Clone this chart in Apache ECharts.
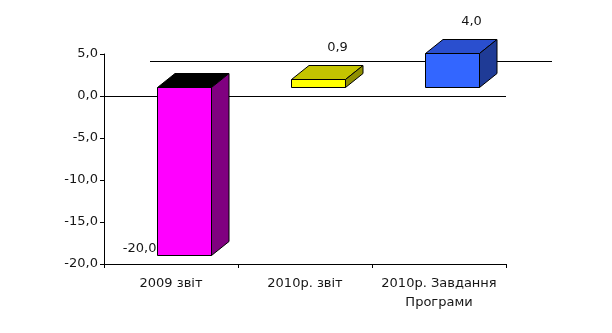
<!DOCTYPE html>
<html>
<head>
<meta charset="utf-8">
<script src="https://cdn.jsdelivr.net/npm/echarts@6/dist/echarts.min.js"></script>
<style>
  html, body { margin: 0; padding: 0; background: #fff; }
  #chart { width: 612px; height: 333px; }
</style>
</head>
<body>
<div id="chart"></div>
<script>
// Categories and values of the chart
const categories = ['2009 звіт', '2010р. звіт', '2010р. Завдання\nПрограми'];
const values = [-20.0, 0.9, 4.0];
const yTicks = { min: -20, max: 5, interval: 5 };
const baseline = 0;

// Face colours for each column: front, top, side
const frontColors = ['#FF00FF', '#FFFF00', '#3366FF'];
const topColors = ['#000000', '#C4C400', '#2A4FCF'];
const sideColors = ['#800080', '#8F8F00', '#1F3B96'];

// 3D projection offsets (pixels)
const FRONT = [13, -9.5];   // column front face relative to the front plane
const DEPTH = [17.5, -14];  // column depth
const WALL = [46, -35];     // back wall relative to the front plane

const FONT = 'DejaVu Sans';
const TXT = '#161616';

const fmt = v => v.toFixed(1).replace('.', ',');
const crisp = v => Math.round(v) + 0.5;

const chart = echarts.init(document.getElementById('chart'), null, { renderer: 'canvas' });

function renderFloor(params, api) {
  const cs = params.coordSys;
  const y0 = api.coord([0, baseline])[1];
  const x1 = Math.round(cs.x), x2 = Math.round(cs.x + cs.width);
  const st = { stroke: '#000', lineWidth: 1 };
  const yf = crisp(y0), yb = crisp(y0 + WALL[1]);
  return {
    type: 'group',
    children: [
      { type: 'line', shape: { x1: x1, y1: yf, x2: x2, y2: yf }, style: st },
      { type: 'line', shape: { x1: x1 + WALL[0], y1: yb, x2: x2 + WALL[0], y2: yb }, style: st }
    ]
  };
}

function renderBar(params, api) {
  const i = api.value(0);
  const v = api.value(1);
  const p0 = api.coord([i, baseline]);
  const p1 = api.coord([i, v]);
  const band = api.size([1, 0])[0];
  const w = Math.round(band * 0.4);
  const left = crisp(p0[0] - w / 2 + FRONT[0]);
  const right = left + w;
  const top = crisp(Math.min(p0[1], p1[1]) + FRONT[1]);
  const bottom = crisp(Math.max(p0[1], p1[1]) + FRONT[1]);
  const dx = DEPTH[0], dy = DEPTH[1];
  const edge = { stroke: '#000', lineWidth: 1, lineJoin: 'round' };
  const children = [
    { type: 'rect', shape: { x: left, y: top, width: w, height: bottom - top },
      style: Object.assign({ fill: frontColors[i] }, edge) },
    { type: 'polygon', shape: { points: [[left, top], [left + dx, top + dy], [right + dx, top + dy], [right, top]] },
      style: Object.assign({ fill: topColors[i] }, edge) },
    { type: 'polygon', shape: { points: [[right, top], [right + dx, top + dy], [right + dx, bottom + dy], [right, bottom]] },
      style: Object.assign({ fill: sideColors[i] }, edge) }
  ];
  let label;
  if (v >= 0) {
    label = { x: (left + right) / 2 + dx + 1.5, y: top + dy - 17.5, align: 'center' };
  } else {
    label = { x: left - 1, y: bottom - 7, align: 'right' };
  }
  children.push({
    type: 'text',
    style: {
      x: label.x, y: label.y, text: fmt(v),
      align: label.align, verticalAlign: 'middle',
      font: '13px "' + FONT + '"', fill: TXT
    }
  });
  return { type: 'group', children: children };
}

chart.setOption({
  animation: false,
  backgroundColor: '#ffffff',
  grid: { left: 104, right: 106, top: 54, bottom: 69 },
  xAxis: {
    type: 'category',
    data: categories,
    boundaryGap: true,
    axisLine: { show: true, onZero: false, lineStyle: { color: '#000', width: 1 } },
    axisTick: { show: true, length: 4, alignWithLabel: false, lineStyle: { color: '#000' } },
    axisLabel: { fontFamily: FONT, fontSize: 13, color: TXT, margin: 10, lineHeight: 19, interval: 0 },
    splitLine: { show: false }
  },
  yAxis: {
    type: 'value',
    min: yTicks.min, max: yTicks.max, interval: yTicks.interval,
    axisLine: { show: true, lineStyle: { color: '#000', width: 1 } },
    axisTick: { show: true, length: 4, lineStyle: { color: '#000' } },
    axisLabel: { fontFamily: FONT, fontSize: 13, color: TXT, margin: 6, formatter: fmt },
    splitLine: { show: false }
  },
  series: [
    {
      type: 'custom',
      name: 'floor',
      z: 1,
      silent: true,
      renderItem: renderFloor,
      data: [[0, baseline]]
    },
    {
      type: 'custom',
      name: 'columns',
      z: 2,
      renderItem: renderBar,
      data: values.map((v, i) => [i, v])
    }
  ]
});
</script>
</body>
</html>
